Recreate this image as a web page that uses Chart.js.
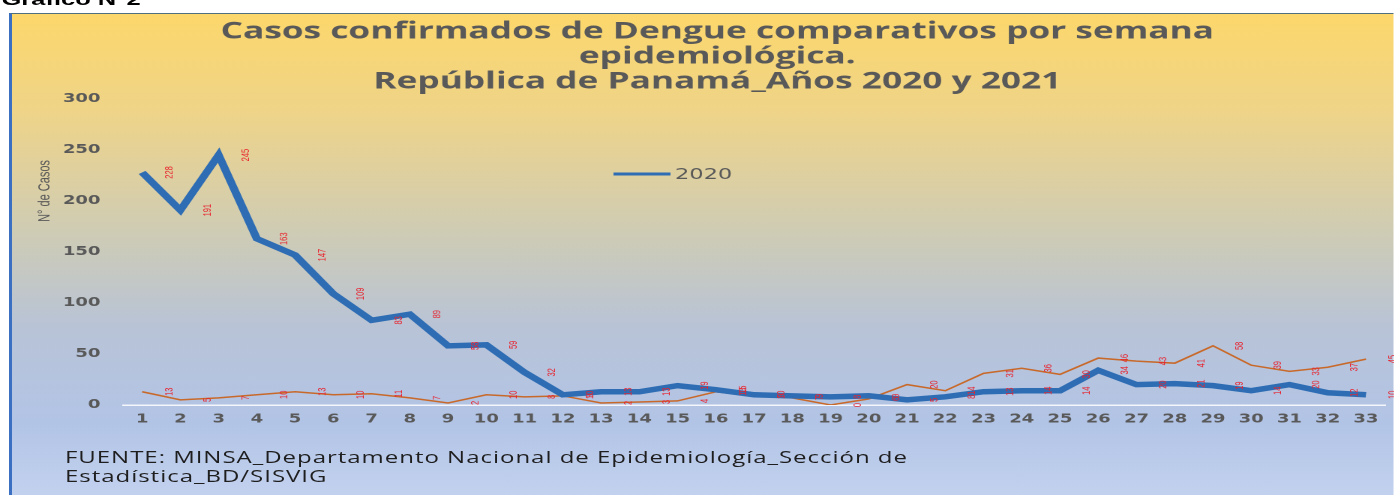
<!DOCTYPE html>
<html>
<head>
<meta charset="utf-8">
<script src="https://cdn.jsdelivr.net/npm/chart.js@4.4.1/dist/chart.umd.min.js"></script>
<style>
    body { margin: 0; background: #fff; overflow: hidden; }
    /* the reference picture is stretched sideways, so the whole stage is too */
    #stage { position: relative; width: 929.33px; height: 495px; transform: scaleX(1.5); transform-origin: 0 0; }
    .hdr { position: absolute; left: 1px; top: -10px; font: bold 17px "Liberation Sans", Arial, sans-serif; color: #000; }
    .box {
        position: absolute; left: 6px; top: 13px; right: 0; bottom: 0;
        border-left: 2px solid #3a6fc2; border-top: 1px solid #4d6f7e;
        background: linear-gradient(to bottom, #fcd76b 0%, #efd488 20%, #cfccb4 45%, #b8c3d6 65%, #b2c4e6 85%, #c2d1ee 100%);
    }
    #c { position: absolute; left: 0; top: 0; }
    .src { position: absolute; left: 43.3px; top: 448px; font: 16px "Open Sans", sans-serif; letter-spacing: 0.65px; line-height: 19px; color: #1e1e1e; }
</style>
</head>
<body>
<div id="stage">
    <div class="hdr">Gráfico N°2</div>
    <div class="box"></div>
    <canvas id="c" width="929" height="495"></canvas>
    <div class="src">FUENTE: MINSA_Departamento Nacional de Epidemiología_Sección de<br>Estadística_BD/SISVIG</div>
</div>
<script>
const weeks = [];
for (let i = 1; i <= 33; i++) weeks.push(String(i));

const cases2020 = [228, 191, 245, 163, 147, 109, 83, 89, 58, 59, 32, 10, 13, 13, 19, 15, 10, 9, 8, 9, 5, 8, 13, 14, 14, 34, 20, 21, 19, 14, 20, 12, 10];
const cases2021 = [13, 5, 7, 10, 13, 10, 11, 7, 2, 10, 8, 9, 2, 3, 4, 13, 9, 7, 0, 6, 20, 14, 31, 36, 30, 46, 43, 41, 58, 39, 33, 37, 45];

const titleLines = ["Casos confirmados de Dengue comparativos por semana", "epidemiológica.", "República de Panamá_Años 2020 y 2021"];
const yTitle = "N° de Casos";

const gray = "#595959";
const blue = "#2e6db4";
const orange = "#c8692a";

// red rotated numbers next to every point
const valueLabels = {
    id: "valueLabels",
    afterDatasetsDraw(chart) {
        const ctx = chart.ctx;
        ctx.save();
        ctx.fillStyle = "#e8232e";
        ctx.font = "7.5px 'Liberation Sans', Arial, sans-serif";
        ctx.textAlign = "center";
        ctx.textBaseline = "middle";
        chart.data.datasets.forEach((ds, di) => {
            chart.getDatasetMeta(di).data.forEach((pt, i) => {
                ctx.save();
                ctx.translate(pt.x + 18, pt.y);
                ctx.rotate(-Math.PI / 2);
                ctx.fillText(ds.data[i], 0, 0);
                ctx.restore();
            });
        });
        ctx.restore();
    }
};

// axis title and the single legend entry sit inside the plot like in the picture
const extras = {
    id: "extras",
    afterDraw(chart) {
        const ctx = chart.ctx;
        ctx.save();
        ctx.fillStyle = gray;
        ctx.font = "11px 'Liberation Sans', Arial, sans-serif";
        ctx.textAlign = "center";
        ctx.textBaseline = "middle";
        ctx.translate(30, 191);
        ctx.rotate(-Math.PI / 2);
        ctx.fillText(yTitle, 0, 0);
        ctx.restore();

        const ds = chart.data.datasets[0];
        ctx.save();
        ctx.strokeStyle = ds.borderColor;
        ctx.lineWidth = 3;
        ctx.beginPath();
        ctx.moveTo(409, 174);
        ctx.lineTo(447, 174);
        ctx.stroke();
        ctx.fillStyle = gray;
        ctx.font = "15px 'DejaVu Sans', sans-serif";
        ctx.textAlign = "left";
        ctx.textBaseline = "middle";
        ctx.fillText(ds.label, 450, 175);
        ctx.restore();
    }
};

new Chart(document.getElementById("c"), {
    type: "line",
    data: {
        labels: weeks,
        datasets: [
            { label: "2020", data: cases2020, borderColor: blue, borderWidth: 5.5, pointRadius: 0, tension: 0 },
            { label: "2021", data: cases2021, borderColor: orange, borderWidth: 1.5, pointRadius: 0, tension: 0 }
        ]
    },
    options: {
        responsive: false,
        devicePixelRatio: 2,
        animation: false,
        layout: { padding: { left: 33, right: 5.6, top: 0, bottom: 61.6 } },
        plugins: {
            legend: { display: false },
            tooltip: { enabled: false },
            title: {
                display: true,
                text: titleLines,
                color: gray,
                font: { family: "'Open Sans', sans-serif", size: 23.5, weight: "bold", lineHeight: 25 / 23.5 },
                padding: { top: 19.5, bottom: 4.5 }
            }
        },
        scales: {
            x: {
                offset: true,
                grid: { display: false, drawTicks: false },
                border: { display: true, color: "rgba(255,255,255,0.85)", width: 1.5 },
                ticks: {
                    autoSkip: false, maxRotation: 0, padding: 7, color: gray,
                    font: { family: "'DejaVu Sans', sans-serif", size: 12, weight: "bold" }
                }
            },
            y: {
                min: 0, max: 300,
                grid: { display: false, drawTicks: false },
                border: { display: false },
                afterFit(scale) { scale.width = 49; },
                ticks: {
                    stepSize: 50, padding: 15, color: gray,
                    font: { family: "'DejaVu Sans', sans-serif", size: 12, weight: "bold" }
                }
            }
        }
    },
    plugins: [valueLabels, extras]
});
</script>
</body>
</html>
